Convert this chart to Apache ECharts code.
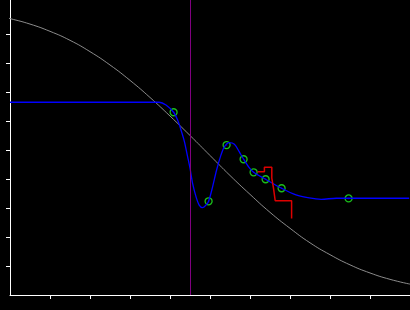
<!DOCTYPE html>
<html>
<head>
<meta charset="utf-8">
<script src="https://cdn.jsdelivr.net/npm/echarts@6/dist/echarts.min.js"></script>
<style>html,body{margin:0;padding:0;background:#000;}#c{width:410px;height:310px;}</style>
</head>
<body>
<div id="c"></div>
<script>
// Gray reference curve (x, y)
const grayX = [-0.27, 0, 0.5, 1, 1.5, 2, 2.5, 3, 3.5, 4, 4.5, 5, 5.5, 6, 6.5, 7, 7.5, 8, 8.5, 9, 9.5, 10];
const grayY = [9.62, 9.53, 9.34, 9.09, 8.78, 8.39, 7.93, 7.40, 6.81, 6.17, 5.50, 4.81, 4.12, 3.47, 2.85, 2.30, 1.80, 1.39, 1.04, 0.76, 0.54, 0.375];

// Blue curve
const blueX = [0, 3.73, 3.90, 4.09, 4.19, 4.275, 4.36, 4.44, 4.50, 4.565, 4.65, 4.73, 4.815, 4.90, 4.965, 5.065, 5.165, 5.275, 5.36, 5.48, 5.61, 5.73, 5.84, 5.965, 6.09, 6.39, 6.79, 7.15, 7.48, 7.78, 8.16, 9.98];
const blueY = [6.645, 6.645, 6.55, 6.30, 6.03, 5.69, 5.29, 4.77, 4.37, 3.85, 3.39, 3.10, 3.01, 3.10, 3.23, 3.73, 4.31, 4.83, 5.11, 5.25, 5.20, 4.94, 4.68, 4.42, 4.23, 3.99, 3.68, 3.45, 3.345, 3.30, 3.335, 3.335];

// Green markers
const markX = [4.09, 4.965, 5.415, 5.84, 6.09, 6.39, 6.79, 8.465];
const markY = [6.30, 3.23, 5.17, 4.68, 4.23, 3.99, 3.68, 3.33];

// Red step line
const redX = [6.19, 6.36, 6.545, 6.59, 6.63, 7.04];
const redY = [4.25, 4.40, 4.03, 3.66, 3.25, 2.64];

// Vertical marker
const vLineX = 4.51;

const tickVals = [1, 2, 3, 4, 5, 6, 7, 8, 9];

const zip = (a, b) => a.map((v, i) => [v, b[i]]);

const chart = echarts.init(document.getElementById('c'), null, {renderer: 'canvas'});
chart.setOption({
  backgroundColor: '#000',
  animation: false,
  grid: {left: 10, right: 0, top: 0, bottom: 15},
  xAxis: {
    type: 'value', min: 0, max: 10, interval: 1,
    axisLine: {show: true, onZero: false, lineStyle: {color: '#fff', width: 1}},
    axisTick: {show: true, length: 4, customValues: tickVals, lineStyle: {color: '#fff', width: 1}},
    axisLabel: {show: false},
    splitLine: {show: false}
  },
  yAxis: {
    type: 'value', min: 0, max: 10.17, interval: 1,
    axisLine: {show: true, onZero: false, lineStyle: {color: '#fff', width: 1}},
    axisTick: {show: true, length: 4, customValues: tickVals, lineStyle: {color: '#fff', width: 1}},
    axisLabel: {show: false},
    splitLine: {show: false}
  },
  series: [
    {
      type: 'line', data: zip(grayX, grayY), smooth: true, showSymbol: false, clip: false,
      lineStyle: {color: '#8c8c8c', width: 1},
      markLine: {
        silent: true, symbol: 'none', label: {show: false},
        lineStyle: {color: '#800080', width: 1, type: 'solid'},
        data: [{xAxis: vLineX}]
      }
    },
    {
      type: 'line', data: zip(blueX, blueY), smooth: 0.3, showSymbol: false,
      lineStyle: {color: '#0000ff', width: 1.3}
    },
    {
      type: 'line', data: zip(redX, redY), step: 'end', showSymbol: false,
      lineStyle: {color: '#dd0000', width: 1.5}
    },
    {
      type: 'scatter', data: zip(markX, markY), symbol: 'circle', symbolSize: 7,
      itemStyle: {color: '#000', borderColor: '#22ee22', borderWidth: 1.3}
    },
    {
      type: 'scatter', data: zip(markX, markY), symbol: 'circle', symbolSize: 1.5,
      itemStyle: {color: '#0000ff'}
    }
  ]
});
</script>
</body>
</html>
